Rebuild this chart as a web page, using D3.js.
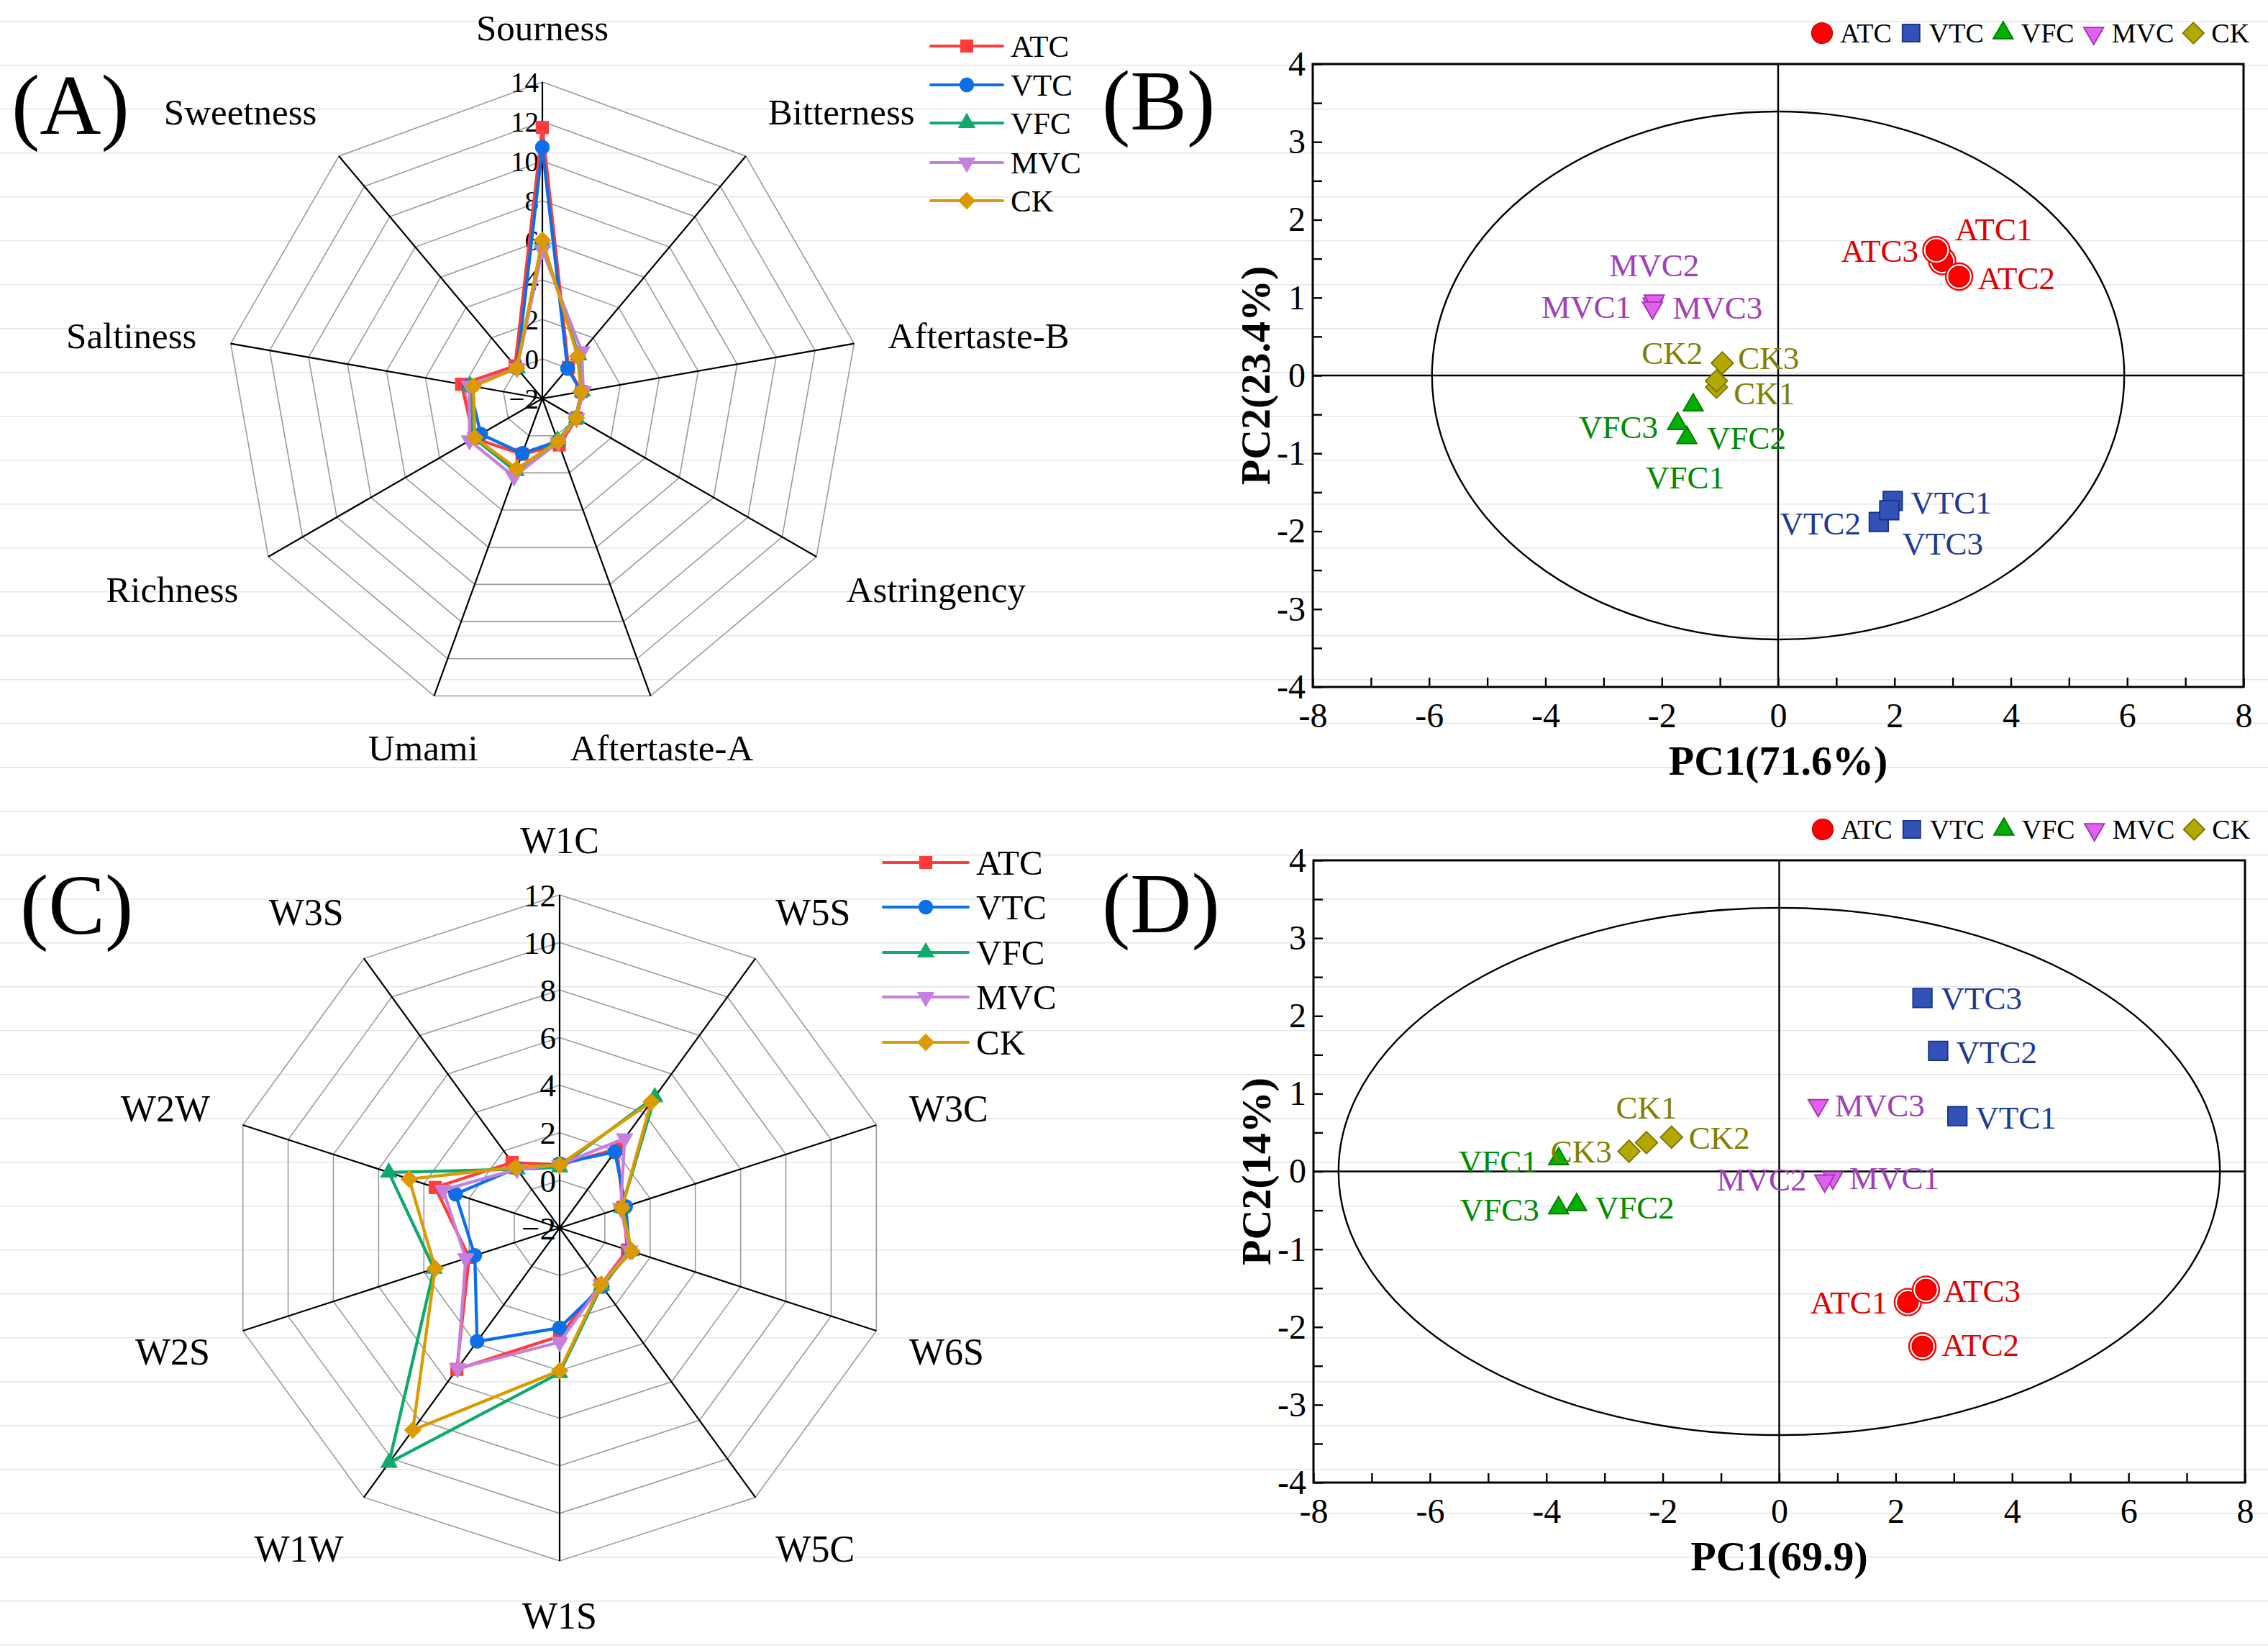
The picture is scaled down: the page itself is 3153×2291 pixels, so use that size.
<!DOCTYPE html>
<html>
<head>
<meta charset="utf-8">
<script src="https://cdn.jsdelivr.net/npm/d3@7"></script>
<style>
  body { margin: 0; background: #fff; }
  svg { display: block; }
  text { font-family: "Liberation Serif", "Times New Roman", serif; }
</style>
</head>
<body>
<svg id="fig"></svg>
<script>
// ---- data ----
var groups = ["ATC", "VTC", "VFC", "MVC", "CK"];

// (A) e-tongue radar
var tasteAxes = ["Sourness", "Bitterness", "Aftertaste-B", "Astringency", "Aftertaste-A",
                 "Umami", "Richness", "Saltiness", "Sweetness"];
var tasteTicks = [-2, 0, 2, 4, 6, 8, 10, 12, 14];
var tasteATC = [11.7, 0.05, 0.0, 0.0, 0.5, 1.0, 2.0, 2.15, 0.15];
var tasteVTC = [10.7, -0.02, 0.0, -0.05, 0.3, 0.95, 1.6, 1.75, 0.0];
var tasteVFC = [5.9, 0.85, 0.05, 0.0, 0.25, 1.9, 2.0, 1.7, 0.0];
var tasteMVC = [5.5, 1.1, 0.1, 0.0, 0.35, 2.2, 2.25, 1.75, 0.0];
var tasteCK  = [6.0, 0.78, -0.02, -0.03, 0.32, 1.78, 1.94, 1.54, 0.01];

// (C) e-nose radar
var noseAxes = ["W1C", "W5S", "W3C", "W6S", "W5C", "W1S", "W1W", "W2S", "W2W", "W3S"];
var noseTicks = [-2, 0, 2, 4, 6, 8, 10, 12];
var noseATC = [0.65, 2.1, 0.8, 1.0, 0.95, 2.55, 5.35, 2.0, 3.5, 1.4];
var noseVTC = [0.7, 1.95, 0.92, 1.1, 1.05, 2.2, 3.9, 1.75, 2.6, 1.1];
var noseVFC = [0.55, 4.8, 0.75, 1.15, 1.0, 4.1, 10.2, 3.55, 5.55, 1.05];
var noseMVC = [0.65, 2.65, 0.7, 1.1, 0.95, 2.8, 5.3, 2.15, 3.15, 1.05];
var noseCK  = [0.65, 4.55, 0.75, 1.2, 0.95, 4.0, 8.5, 3.5, 4.65, 1.15];

// (B) PCA of taste, replicates 1..3 as [PC1, PC2]
var pcaTasteATC = [[2.82, 1.47], [3.11, 1.27], [2.72, 1.61]];
var pcaTasteVTC = [[1.97, -1.61], [1.73, -1.88], [1.91, -1.73]];
var pcaTasteVFC = [[-1.57, -0.80], [-1.46, -0.38], [-1.73, -0.62]];
var pcaTasteMVC = [[-2.15, 0.92], [-2.13, 0.96], [-2.16, 0.87]];
var pcaTasteCK  = [[-1.06, -0.15], [-0.96, 0.16], [-1.06, -0.07]];
var pcaTasteEllipse = [5.95, 3.39];

// (D) PCA of aroma
var pcaNoseATC = [[2.21, -1.68], [2.46, -2.25], [2.52, -1.52]];
var pcaNoseVTC = [[3.06, 0.71], [2.73, 1.55], [2.46, 2.23]];
var pcaNoseVFC = [[-3.79, 0.16], [-3.48, -0.43], [-3.79, -0.47]];
var pcaNoseMVC = [[0.92, -0.08], [0.78, -0.12], [0.67, 0.85]];
var pcaNoseCK  = [[-2.28, 0.37], [-1.85, 0.44], [-2.58, 0.26]];
var pcaNoseEllipse = [7.57, 3.39];

// ---- layout / style ----
var W = 3153, H = 2291;
var lineColors = ["#FF3B3B", "#0C6FE8", "#0DAA6A", "#C47FE0", "#DA9A00"];
var radarShapes = ["square", "circle", "triangle", "down", "diamond"];
var pcaShapes = ["ring", "square", "triangle", "down", "diamond"];
var pcaFill = ["#FF0000", "#3352B8", "#00B000", "#E060F0", "#B3A800"];
var pcaStroke = ["#C00000", "#1A2F85", "#007A00", "#A030B0", "#7A7200"];
var pcaText = ["#E00000", "#1F3A93", "#008A00", "#A040B8", "#808000"];

// label offsets for the PCA point names [dx, dy, anchor]
var tasteLabelPos = [
  [[18, -29, "start"], [26, 17, "start"], [-25, 16, "end"]],
  [[25, 18, "start"], [-25, 17, "end"], [18, 62, "start"]],
  [[-2, 70, "middle"], [19, 61, "start"], [-27, 20, "end"]],
  [[-30, 20, "end"], [0, -34, "middle"], [28, 15, "start"]],
  [[24, 24, "start"], [-27, 1, "end"], [30, -17, "start"]]
];
var noseLabelPos = [
  [[-28, 16, "end"], [27, 13, "start"], [24, 17, "start"]],
  [[25, 17, "start"], [25, 17, "start"], [26, 16, "start"]],
  [[-29, 19, "end"], [26, 19, "start"], [-27, 18, "end"]],
  [[23, 16, "start"], [-25, 14, "end"], [23, 15, "start"]],
  [[0, -33, "middle"], [24, 16, "start"], [-24, 16, "end"]]
];

var svg = d3.select("#fig").attr("width", W).attr("height", H);
svg.append("rect").attr("width", W).attr("height", H).attr("fill", "#fff");

// faint ruled lines behind the whole figure
svg.append("g").selectAll("line")
  .data(d3.range(29.7, H, 61))
  .enter().append("line")
  .attr("x1", 0).attr("x2", W)
  .attr("y1", d => d).attr("y2", d => d)
  .attr("stroke", "#e6e6e6").attr("stroke-width", 1.5);

function symbolPath(kind, size) {
  if (kind === "circle") return d3.symbol(d3.symbolCircle, size)();
  if (kind === "triangle" || kind === "down") return d3.symbol(d3.symbolTriangle, size)();
  return d3.symbol(d3.symbolSquare, size)();
}
function symbolRot(kind) {
  if (kind === "down") return " rotate(180)";
  if (kind === "diamond") return " rotate(45)";
  return "";
}
var radarSizes = { square: 330, circle: 330, triangle: 260, down: 260, diamond: 300 };

function drawRadar(o) {
  var g = svg.append("g").attr("transform", `translate(${o.cx},${o.cy})`);
  var n = o.axes.length, step = 2 * Math.PI / n;
  var r = d3.scaleLinear().domain([o.ticks[0], o.ticks[o.ticks.length - 1]]).range([0, o.R]);
  var poly = d3.lineRadial().angle((d, i) => i * step).radius(d => r(d)).curve(d3.curveLinearClosed);

  // grid rings
  g.append("g").selectAll("path")
    .data(o.ticks.slice(1))
    .enter().append("path")
    .attr("d", t => poly(o.axes.map(() => t)))
    .attr("fill", "none").attr("stroke", "#9b9b9b").attr("stroke-width", 1.6);

  // spokes
  var rMax = r(o.ticks[o.ticks.length - 1]);
  g.append("g").selectAll("line")
    .data(o.axes)
    .enter().append("line")
    .attr("x1", 0).attr("y1", 0)
    .attr("x2", (d, i) => rMax * Math.sin(i * step))
    .attr("y2", (d, i) => -rMax * Math.cos(i * step))
    .attr("stroke", "#000").attr("stroke-width", 2.2);

  // value labels on the first axis
  g.append("g").selectAll("text")
    .data(o.ticks)
    .enter().append("text")
    .attr("x", -5).attr("y", t => -r(t)).attr("dy", "0.35em")
    .attr("text-anchor", "end").attr("font-size", o.tickFont)
    .text(t => t < 0 ? "\u2212" + (-t) : t);

  // series
  o.series.forEach(function(vals, k) {
    var sg = g.append("g");
    sg.append("path")
      .attr("d", poly(vals))
      .attr("fill", "none").attr("stroke", lineColors[k]).attr("stroke-width", 4.3)
      .attr("stroke-linejoin", "round");
    sg.selectAll("path.m")
      .data(vals)
      .enter().append("path").attr("class", "m")
      .attr("d", symbolPath(radarShapes[k], radarSizes[radarShapes[k]]))
      .attr("transform", (d, i) => `translate(${r(d) * Math.sin(i * step)},${-r(d) * Math.cos(i * step)})` + symbolRot(radarShapes[k]))
      .attr("fill", lineColors[k]);
  });

  // axis names
  g.append("g").selectAll("text")
    .data(o.axes)
    .enter().append("text")
    .attr("font-size", o.labelFont)
    .each(function(d, i) {
      var sx = Math.sin(i * step), sy = -Math.cos(i * step);
      var vx = rMax * sx, vy = rMax * sy;
      var t = d3.select(this), anchor, x, dyMid;
      if (Math.abs(sx) < 0.4) { anchor = "middle"; x = vx + sx * 45; dyMid = sy * 76; }
      else { anchor = sx > 0 ? "start" : "end"; x = vx + sx * 48; dyMid = sy * 84 + 3; }
      t.attr("x", x).attr("y", vy + dyMid + 0.35 * o.labelFont).attr("text-anchor", anchor).text(d);
    });

  // legend
  var lg = svg.append("g");
  groups.forEach(function(name, k) {
    var y = o.legendY[k];
    lg.append("line").attr("x1", o.legendX[0]).attr("x2", o.legendX[1]).attr("y1", y).attr("y2", y)
      .attr("stroke", lineColors[k]).attr("stroke-width", 4).attr("stroke-linecap", "round");
    lg.append("path")
      .attr("d", symbolPath(radarShapes[k], radarSizes[radarShapes[k]]))
      .attr("transform", `translate(${(o.legendX[0] + o.legendX[1]) / 2},${y})` + symbolRot(radarShapes[k]))
      .attr("fill", lineColors[k]);
    lg.append("text").attr("x", o.legendX[1] + 11).attr("y", y).attr("dy", "0.35em")
      .attr("font-size", o.legendFont).text(name);
  });
}

function pcaMarker(sel, k, big) {
  var kind = pcaShapes[k];
  if (kind === "ring") {
    if (big) {
      sel.append("circle").attr("r", 18.5).attr("fill", "#fff").attr("stroke", pcaFill[k]).attr("stroke-width", 2.4);
    }
    sel.append("circle").attr("r", 14.5).attr("fill", pcaFill[k]).attr("stroke", pcaStroke[k]).attr("stroke-width", 1.2);
    return;
  }
  var sizes = { square: big ? 700 : 580, triangle: 330, down: 330, diamond: big ? 470 : 430 };
  sel.append("path")
    .attr("d", symbolPath(kind, sizes[kind]))
    .attr("transform", symbolRot(kind).trim())
    .attr("fill", pcaFill[k]).attr("stroke", pcaStroke[k]).attr("stroke-width", 1.8);
}

function drawPCA(o) {
  var x = d3.scaleLinear().domain([-8, 8]).range([o.left, o.right]);
  var y = d3.scaleLinear().domain([-4, 4]).range([o.bottom, o.top]);
  var g = svg.append("g");

  g.append("ellipse")
    .attr("cx", x(0)).attr("cy", y(0))
    .attr("rx", x(o.ellipse[0]) - x(0)).attr("ry", y(0) - y(o.ellipse[1]))
    .attr("fill", "none").attr("stroke", "#000").attr("stroke-width", 2.4);

  g.append("line").attr("x1", x(0)).attr("x2", x(0)).attr("y1", y(4)).attr("y2", y(-4))
    .attr("stroke", "#000").attr("stroke-width", 2.4);
  g.append("line").attr("x1", x(-8)).attr("x2", x(8)).attr("y1", y(0)).attr("y2", y(0))
    .attr("stroke", "#000").attr("stroke-width", 2.4);

  var xAxis = g.append("g").attr("transform", `translate(0,${o.bottom})`)
    .call(d3.axisBottom(x).tickValues(d3.range(-8, 9, 1)).tickSize(-13).tickPadding(22)
      .tickFormat(d => d % 2 === 0 ? String(d) : ""));
  var yAxis = g.append("g").attr("transform", `translate(${o.left},0)`)
    .call(d3.axisLeft(y).tickValues(d3.range(-4, 4.01, 0.5)).tickSize(-13).tickPadding(10)
      .tickFormat(d => Number.isInteger(d) ? String(d) : ""));
  [xAxis, yAxis].forEach(function(a) {
    a.select(".domain").remove();
    a.attr("font-family", null).attr("font-size", null);
    a.selectAll(".tick line").attr("stroke", "#000").attr("stroke-width", 2.4);
    a.selectAll(".tick text").attr("fill", "#000").attr("font-size", 48);
  });

  g.append("rect").attr("x", o.left).attr("y", o.top)
    .attr("width", o.right - o.left).attr("height", o.bottom - o.top)
    .attr("fill", "none").attr("stroke", "#000").attr("stroke-width", 3);

  // points
  o.series.forEach(function(pts, k) {
    pts.forEach(function(p) {
      var m = g.append("g").attr("transform", `translate(${x(p[0])},${y(p[1])})`);
      pcaMarker(m, k, true);
    });
  });
  o.series.forEach(function(pts, k) {
    pts.forEach(function(p, i) {
      var lp = o.labelPos[k][i];
      g.append("text")
        .attr("x", x(p[0]) + lp[0]).attr("y", y(p[1]) + lp[1])
        .attr("text-anchor", lp[2]).attr("font-size", 45).attr("fill", pcaText[k])
        .text(groups[k] + (i + 1));
    });
  });

  // axis titles
  g.append("text").attr("x", x(0)).attr("y", o.bottom + 122)
    .attr("text-anchor", "middle").attr("font-size", 58).attr("font-weight", "bold").text(o.xTitle);
  g.append("text")
    .attr("transform", `translate(${o.left - 60},${y(0)}) rotate(-90)`)
    .attr("text-anchor", "middle").attr("font-size", 58).attr("font-weight", "bold").text(o.yTitle);

  // legend along the top
  var lx = o.legendX;
  groups.forEach(function(name, k) {
    var m = g.append("g").attr("transform", `translate(${lx},${o.legendY})`);
    pcaMarker(m, k, false);
    var t = g.append("text").attr("x", lx + 25).attr("y", o.legendY).attr("dy", "0.35em")
      .attr("font-size", 38).text(name);
    lx = lx + 25 + t.node().getComputedTextLength() + 27;
  });
}

drawRadar({
  cx: 754, cy: 554, R: 440, axes: tasteAxes, ticks: tasteTicks,
  series: [tasteATC, tasteVTC, tasteVFC, tasteMVC, tasteCK],
  tickFont: 39, labelFont: 51, legendFont: 43,
  legendX: [1294, 1394], legendY: [64, 118, 171, 226, 279]
});
drawRadar({
  cx: 778, cy: 1707, R: 463, axes: noseAxes, ticks: noseTicks,
  series: [noseATC, noseVTC, noseVFC, noseMVC, noseCK],
  tickFont: 45, labelFont: 52, legendFont: 49,
  legendX: [1228, 1346], legendY: [1199, 1261, 1324, 1386, 1449]
});
drawPCA({
  left: 1825, right: 3119, top: 89, bottom: 955,
  series: [pcaTasteATC, pcaTasteVTC, pcaTasteVFC, pcaTasteMVC, pcaTasteCK],
  ellipse: pcaTasteEllipse, labelPos: tasteLabelPos,
  xTitle: "PC1(71.6%)", yTitle: "PC2(23.4%)",
  legendX: 2533, legendY: 46
});
drawPCA({
  left: 1826, right: 3121, top: 1196, bottom: 2061,
  series: [pcaNoseATC, pcaNoseVTC, pcaNoseVFC, pcaNoseMVC, pcaNoseCK],
  ellipse: pcaNoseEllipse, labelPos: noseLabelPos,
  xTitle: "PC1(69.9)", yTitle: "PC2(14%)",
  legendX: 2534, legendY: 1153
});

// panel letters
var panels = [["(A)", 16, 186], ["(B)", 1532, 180], ["(C)", 28, 1298], ["(D)", 1532, 1296]];
svg.append("g").selectAll("text")
  .data(panels)
  .enter().append("text")
  .attr("x", d => d[1]).attr("y", d => d[2])
  .attr("font-size", 118).text(d => d[0]);
</script>
</body>
</html>
